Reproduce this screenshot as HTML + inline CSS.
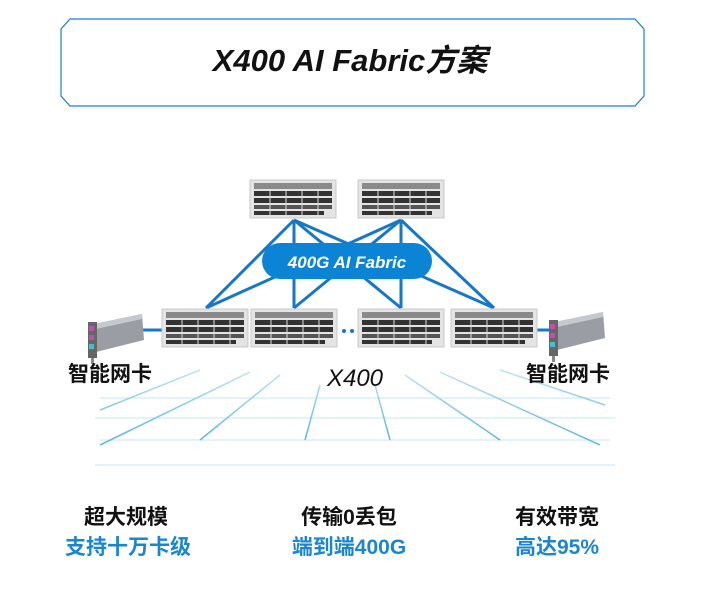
<!DOCTYPE html>
<html><head><meta charset="utf-8"><style>
body{margin:0;width:706px;height:609px;background:#fff;overflow:hidden;font-family:"Liberation Sans","Noto Sans CJK SC",sans-serif}
</style></head><body>
<svg width="706" height="609" viewBox="0 0 706 609" xmlns="http://www.w3.org/2000/svg" font-family="Liberation Sans, Noto Sans CJK SC, sans-serif">
<defs>
<linearGradient id="gl" x1="0" y1="0" x2="0" y2="1"><stop offset="0" stop-color="#bfe3f6"/><stop offset="1" stop-color="#4fb3e6"/></linearGradient>
<g id="sw">
<rect x="0" y="0" width="86" height="38" fill="#e4e4e4" stroke="#c8c8c8"/>
<rect x="4" y="3" width="78" height="6" fill="#8a8a8a"/>
<rect x="4" y="11" width="78" height="5" fill="#333"/>
<rect x="4" y="18" width="78" height="5" fill="#333"/>
<rect x="4" y="25" width="78" height="4" fill="#555"/>
<rect x="4" y="31" width="70" height="4" fill="#333"/>
<path d="M20 11v25M36 11v25M52 11v25M68 11v25" stroke="#ddd" stroke-width="1"/>
</g>
<g id="nic">
<path d="M10 10 L58 0 L60 26 L12 38Z" fill="#9a9ea4"/>
<path d="M10 10 L58 0 L58 5 L12 15Z" fill="#c5c8cc"/>
<rect x="4" y="8" width="9" height="36" fill="#666"/>
<rect x="5" y="12" width="5" height="5" fill="#c050b0"/><rect x="5" y="21" width="5" height="5" fill="#c050b0"/><rect x="5" y="30" width="5" height="5" fill="#40c0d0"/>
<rect x="7" y="44" width="3" height="6" fill="#888"/>
</g>
</defs>
<path d="M70 19 H635 L644 29 V96 L635 106 H70 L61 96 V29Z" fill="#fff" stroke="#1a7fd0" stroke-width="1.2"/>
<text x="350" y="71" text-anchor="middle" font-size="31" font-weight="bold" font-style="italic" fill="#111">X400 AI Fabric方案</text>

<g stroke="url(#gl)" stroke-width="1.5" fill="none">
<path d="M100 398 L610 398 M95 418 L615 418 M100 440 L610 440 M95 465 L615 465" stroke="#d5edf9"/>
<path d="M200 370 L100 410 M250 372 L100 445 M280 375 L200 440 M320 385 L305 440 M375 385 L390 440 M405 375 L500 440 M440 372 L600 445 M500 370 L605 405"/>
</g>

<g stroke="#1577c9" stroke-width="3" fill="none">
<path d="M294 220 L206 308 M294 220 L294 308 M294 220 L401 308 M294 220 L494 308 M401 220 L206 308 M401 220 L294 308 M401 220 L401 308 M401 220 L494 308"/>
<path d="M140 330 H162 M536 330 H552"/>
</g>
<circle cx="344" cy="331" r="2" fill="#1577c9"/><circle cx="352" cy="331" r="2" fill="#1577c9"/>
<rect x="262" y="243" width="170" height="36" rx="18" fill="#0b84d6"/>
<text x="347" y="268" text-anchor="middle" font-size="17" font-weight="bold" font-style="italic" fill="#fff">400G AI Fabric</text>

<use href="#sw" x="250" y="180"/><use href="#sw" x="358" y="180"/>
<use href="#sw" x="162" y="309"/><use href="#sw" x="251" y="309"/><use href="#sw" x="358" y="309"/><use href="#sw" x="451" y="309"/>
<use href="#nic" x="84" y="314"/><use href="#nic" x="545" y="312"/>

<g font-size="21" font-weight="bold" fill="#111">
<text x="68" y="381">智能网卡</text>
<text x="526" y="381">智能网卡</text>
<text x="355" y="386" text-anchor="middle" font-style="italic" font-weight="normal" font-size="24">X400</text>
</g>
<g font-size="21" font-weight="bold" text-anchor="middle">
<text x="126" y="524" fill="#111">超大规模</text>
<text x="128" y="554" fill="#1a86d0">支持十万卡级</text>
<text x="349" y="524" fill="#111">传输0丢包</text>
<text x="349" y="554" fill="#1a86d0">端到端400G</text>
<text x="557" y="524" fill="#111">有效带宽</text>
<text x="557" y="554" fill="#1a86d0">高达95%</text>
</g>
</svg>
</body></html>
